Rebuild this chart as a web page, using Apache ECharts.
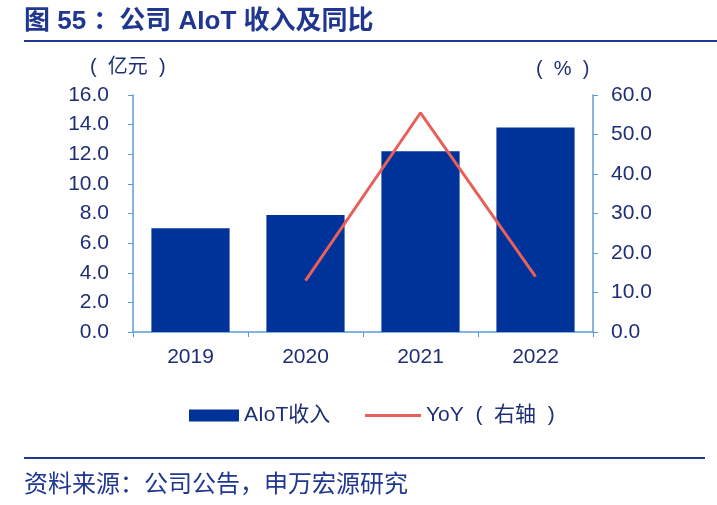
<!DOCTYPE html>
<html><head><meta charset="utf-8">
<script src="https://cdn.jsdelivr.net/npm/echarts@6/dist/echarts.min.js"></script>
<style>html,body{margin:0;padding:0;background:#fff}#c{width:717px;height:505px}</style>
</head><body><div id="c"></div>
<script>
const categories = ['2019', '2020', '2021', '2022'];
const revenue = [7.0, 7.9, 12.2, 13.8];
const yoy = [null, 13.0, 55.5, 14.0];
const leftTicks = {min: 0, max: 16, interval: 2};
const rightTicks = {min: 0, max: 60, interval: 10};
const seriesNames = ['AIoT收入', 'YoY  (  右轴  )'];

const FONT = '"Liberation Sans", Arial, "Noto Sans CJK SC", sans-serif';
const TXT = '#1f2f73';
const AX = '#5b9bd5';
const chart = echarts.init(document.getElementById('c'));
chart.setOption({
  animation: false,
  backgroundColor: '#fff',
  textStyle: {fontFamily: FONT},
  grid: {left: 133, right: 124, top: 95, bottom: 173},
  graphic: [
    {type: 'text', left: 24, top: 9, style: {text: '图 55 ：公司 AIoT 收入及同比', fill: '#1f3790', font: 'bold 26px "Liberation Sans", "Noto Sans CJK SC", sans-serif'}},
    {type: 'rect', shape: {x: 24, y: 40, width: 693, height: 2}, style: {fill: '#1f3790'}},
    {type: 'text', left: 90, top: 57, style: {text: '(  亿元  )', fill: TXT, font: '20px "Liberation Sans", "Noto Sans CJK SC", sans-serif'}},
    {type: 'text', left: 536, top: 59, style: {text: '(  %  )', fill: TXT, font: '20px "Liberation Sans", "Noto Sans CJK SC", sans-serif'}},
    {type: 'rect', shape: {x: 24, y: 457, width: 681, height: 2}, style: {fill: '#1f3790'}},
    {type: 'text', left: 24, top: 471, style: {text: '资料来源：公司公告，申万宏源研究', fill: '#1f3790', font: '24px "Noto Sans CJK SC", sans-serif'}}
  ],
  legend: [
    {data: [seriesNames[0]], left: 184, top: 400, itemWidth: 50, itemHeight: 12, itemGap: 6, icon: 'rect',
     textStyle: {color: TXT, fontSize: 21, fontFamily: FONT}},
    {data: [seriesNames[1]], left: 360, top: 400, itemWidth: 56, itemHeight: 3, itemGap: 8, icon: 'rect',
     textStyle: {color: TXT, fontSize: 21, fontFamily: FONT}}
  ],
  xAxis: {
    type: 'category', data: categories,
    axisLine: {lineStyle: {color: AX, width: 1.5}},
    axisTick: {show: true, length: 5, lineStyle: {color: AX}},
    axisLabel: {color: TXT, fontSize: 21, margin: 15, fontFamily: FONT}
  },
  yAxis: [
    {type: 'value', min: leftTicks.min, max: leftTicks.max, interval: leftTicks.interval,
     splitLine: {show: false},
     axisLine: {show: true, lineStyle: {color: AX, width: 1.5}},
     axisTick: {show: true, length: 5, lineStyle: {color: AX}},
     axisLabel: {color: TXT, fontSize: 21, margin: 24, fontFamily: FONT, formatter: v => v.toFixed(1)}},
    {type: 'value', min: rightTicks.min, max: rightTicks.max, interval: rightTicks.interval,
     splitLine: {show: false},
     axisLine: {show: true, lineStyle: {color: AX, width: 1.5}},
     axisTick: {show: true, length: 5, lineStyle: {color: AX}},
     axisLabel: {color: TXT, fontSize: 21, margin: 18, fontFamily: FONT, formatter: v => v.toFixed(1)}}
  ],
  series: [
    {name: seriesNames[0], type: 'bar', data: revenue, barWidth: '68%', itemStyle: {color: '#00339a'}},
    {name: seriesNames[1], type: 'line', yAxisIndex: 1, data: yoy, symbol: 'none',
     lineStyle: {color: '#e8605a', width: 3}, itemStyle: {color: '#e8605a'}}
  ]
});
</script></body></html>
